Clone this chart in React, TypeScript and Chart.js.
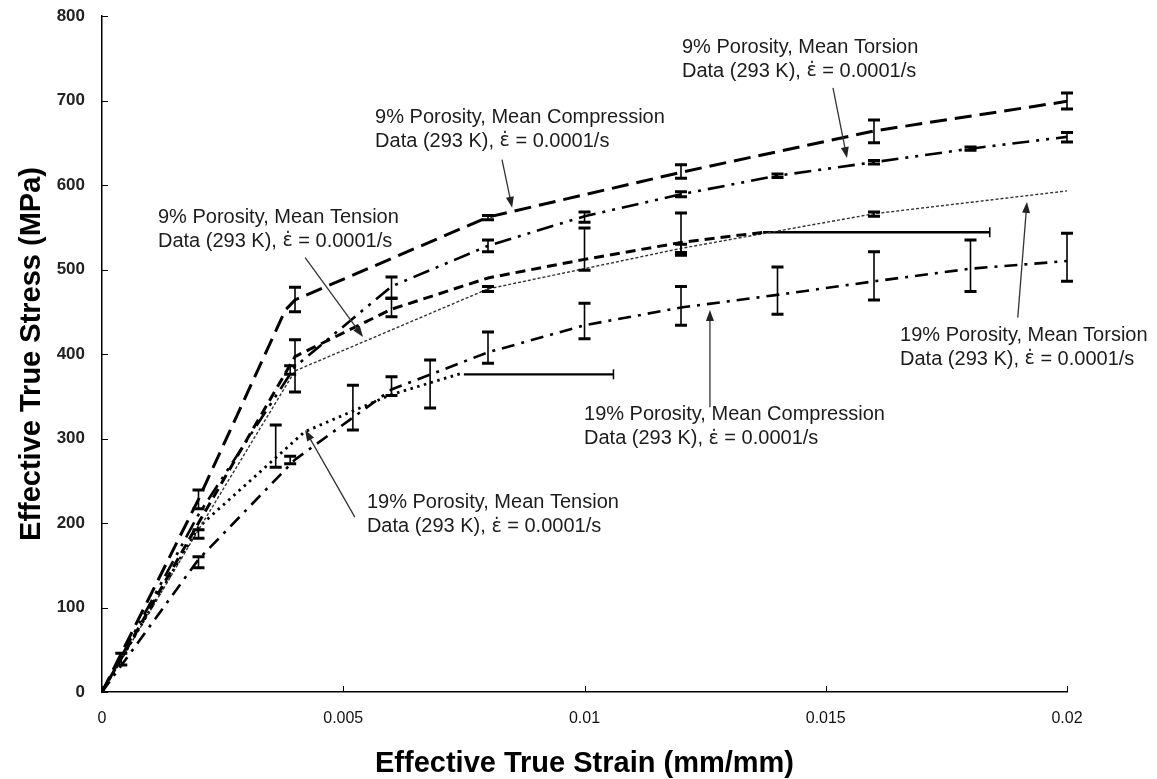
import React, { useEffect, useRef } from "react";
import { Chart, registerables } from "chart.js";

Chart.register(...registerables);

// ---------- axis ticks ----------
const xTicks = [0, 0.005, 0.01, 0.015, 0.02];
const xTickLabels = ["0", "0.005", "0.01", "0.015", "0.02"];
const yTicks = [0, 100, 200, 300, 400, 500, 600, 700, 800];

// ---------- mean curves ----------
const comp9Strain = [0, 0.002, 0.0038, 0.004, 0.008, 0.012, 0.016, 0.02];
const comp9Stress = [0, 228, 452, 464, 562, 615, 664, 699];

const tors9Strain = [0, 0.002, 0.004, 0.006, 0.008, 0.01, 0.012, 0.014, 0.016, 0.018, 0.02];
const tors9Stress = [0, 210, 385, 480, 528, 563, 589, 611, 627, 643, 657];

const tens9Strain = [0, 0.002, 0.004, 0.006, 0.008, 0.01, 0.012, 0.0137];
const tens9Stress = [0, 200, 397, 453, 490, 512, 532, 544];

const tors19Strain = [0, 0.002, 0.004, 0.008, 0.012, 0.016, 0.02];
const tors19Stress = [0, 192, 380, 477, 525, 566, 593];

const comp19Strain = [0, 0.002, 0.004, 0.006, 0.008, 0.01, 0.012, 0.014, 0.016, 0.018, 0.02];
const comp19Stress = [0, 157, 275, 358, 402, 434, 455, 470, 486, 501, 510];

const tens19Strain = [0, 0.002, 0.0042, 0.006, 0.0075];
const tens19Stress = [0, 195, 308, 352, 378];

// ---------- failure strain (horizontal) bars ----------
const tens9FailStrain = [0.0137, 0.0184];
const tens9FailStress = [544, 544];
const tens19FailStrain = [0.0075, 0.0106];
const tens19FailStress = [376, 376];

// ---------- vertical error bars (strain, high, low) ----------
const comp9ErrX = [0.002, 0.004, 0.008, 0.012, 0.016, 0.02];
const comp9ErrHi = [239, 479, 564, 624, 677, 709];
const comp9ErrLo = [217, 450, 559, 608, 650, 690];

const tors9ErrX = [0.006, 0.008, 0.01, 0.012, 0.014, 0.016, 0.018, 0.02];
const tors9ErrHi = [491, 535, 568, 592, 613, 629, 645, 662];
const tors9ErrLo = [466, 521, 556, 586, 609, 625, 641, 651];

const tens9ErrX = [0.002, 0.004, 0.006, 0.01, 0.012];
const tens9ErrHi = [192, 417, 466, 549, 567];
const tens9ErrLo = [182, 355, 444, 499, 517];

const tors19ErrX = [0.0004, 0.0039, 0.008, 0.012, 0.016];
const tors19ErrHi = [46, 386, 480, 530, 568];
const tors19ErrLo = [32, 376, 474, 520, 563];

const comp19ErrX = [0.002, 0.0039, 0.006, 0.008, 0.01, 0.012, 0.014, 0.016, 0.018, 0.02];
const comp19ErrHi = [160, 279, 373, 426, 460, 480, 503, 521, 535, 543];
const comp19ErrLo = [147, 270, 351, 389, 418, 434, 447, 464, 474, 486];

const tens19ErrX = [0.0036, 0.0052, 0.0068];
const tens19ErrHi = [316, 363, 393];
const tens19ErrLo = [266, 310, 336];

// ---------- annotations ----------
const noteTitles = [
  "9% Porosity, Mean Torsion",
  "9% Porosity, Mean Compression",
  "9% Porosity, Mean Tension",
  "19% Porosity, Mean Compression",
  "19% Porosity, Mean Tension",
  "19% Porosity, Mean Torsion",
];
const noteSubPrefix = "Data (293 K), ";
const noteSubSymbol = "\u03B5\u0307";
const noteSubSuffix = " = 0.0001/s";
const noteX = [0.01202, 0.00566, 0.00116, 0.00999, 0.00549, 0.01654];
const noteY = [763, 680, 562, 328, 224, 422];
const arrowFromX = [0.01515, 0.00829, 0.00421, 0.0126, 0.00524, 0.01898];
const arrowFromY = [715, 630, 514, 337, 207, 443];
const arrowToX = [0.01544, 0.0085, 0.00541, 0.0126, 0.00421, 0.01917];
const arrowToY = [632, 573, 420, 452, 310, 580];

const pts = (xs: number[], ys: number[]) => xs.map((x, i) => ({ x, y: ys[i] }));

const errorGroups = [
  { x: comp9ErrX, hi: comp9ErrHi, lo: comp9ErrLo },
  { x: tors9ErrX, hi: tors9ErrHi, lo: tors9ErrLo },
  { x: tens9ErrX, hi: tens9ErrHi, lo: tens9ErrLo },
  { x: tors19ErrX, hi: tors19ErrHi, lo: tors19ErrLo },
  { x: comp19ErrX, hi: comp19ErrHi, lo: comp19ErrLo },
  { x: tens19ErrX, hi: tens19ErrHi, lo: tens19ErrLo },
];

const failBars = [
  { x: tens9FailStrain, y: tens9FailStress },
  { x: tens19FailStrain, y: tens19FailStress },
];

const TEXT_FONT = '20px "Liberation Sans", Arial, sans-serif';
const SYMBOL_FONT = '19px "DejaVu Sans", sans-serif';

const overlayPlugin = {
  id: "overlay",
  afterDatasetsDraw(chart: any) {
    const ctx: CanvasRenderingContext2D = chart.ctx;
    const xs = chart.scales.x;
    const ys = chart.scales.y;
    const X = (v: number) => xs.getPixelForValue(v);
    const Y = (v: number) => ys.getPixelForValue(v);
    ctx.save();

    // inward tick marks
    ctx.strokeStyle = "#000";
    ctx.lineWidth = 1;
    xTicks.forEach((v) => {
      const px = Math.round(X(v)) + 0.5;
      ctx.beginPath();
      ctx.moveTo(px, Y(0));
      ctx.lineTo(px, Y(0) - 6);
      ctx.stroke();
    });
    yTicks.forEach((v) => {
      const py = Math.round(Y(v)) + 0.5;
      ctx.beginPath();
      ctx.moveTo(X(0), py);
      ctx.lineTo(X(0) + 6, py);
      ctx.stroke();
    });

    // vertical error bars
    errorGroups.forEach((g) => {
      g.x.forEach((xv, i) => {
        const px = X(xv);
        const pHi = Y(g.hi[i]);
        const pLo = Y(g.lo[i]);
        ctx.strokeStyle = "#000";
        ctx.lineWidth = 1.6;
        ctx.beginPath();
        ctx.moveTo(px, pHi);
        ctx.lineTo(px, pLo);
        ctx.stroke();
        ctx.lineWidth = 3;
        ctx.beginPath();
        ctx.moveTo(px - 6, pHi);
        ctx.lineTo(px + 6, pHi);
        ctx.moveTo(px - 6, pLo);
        ctx.lineTo(px + 6, pLo);
        ctx.stroke();
      });
    });

    // end caps of horizontal failure bars
    failBars.forEach((b) => {
      const px = X(b.x[1]);
      const py = Y(b.y[1]);
      ctx.strokeStyle = "#000";
      ctx.lineWidth = 1.5;
      ctx.beginPath();
      ctx.moveTo(px, py - 5);
      ctx.lineTo(px, py + 5);
      ctx.stroke();
    });

    // annotations
    ctx.fillStyle = "#1c1c1c";
    ctx.textBaseline = "middle";
    ctx.textAlign = "left";
    noteTitles.forEach((t, i) => {
      const px = X(noteX[i]);
      const py = Y(noteY[i]);
      ctx.font = TEXT_FONT;
      ctx.fillText(t, px, py);
      let cx = px;
      const py2 = py + 24;
      ctx.fillText(noteSubPrefix, cx, py2);
      cx += ctx.measureText(noteSubPrefix).width;
      ctx.font = SYMBOL_FONT;
      ctx.fillText(noteSubSymbol, cx, py2);
      cx += ctx.measureText(noteSubSymbol).width;
      ctx.font = TEXT_FONT;
      ctx.fillText(noteSubSuffix, cx, py2);
    });

    // arrows
    arrowFromX.forEach((fx, i) => {
      const x1 = X(fx), y1 = Y(arrowFromY[i]);
      const x2 = X(arrowToX[i]), y2 = Y(arrowToY[i]);
      const ang = Math.atan2(y2 - y1, x2 - x1);
      const hl = 11, hw = 4;
      ctx.strokeStyle = "#333";
      ctx.fillStyle = "#222";
      ctx.lineWidth = 1.3;
      ctx.beginPath();
      ctx.moveTo(x1, y1);
      ctx.lineTo(x2 - Math.cos(ang) * hl * 0.8, y2 - Math.sin(ang) * hl * 0.8);
      ctx.stroke();
      ctx.beginPath();
      ctx.moveTo(x2, y2);
      ctx.lineTo(x2 - Math.cos(ang) * hl + Math.sin(ang) * hw, y2 - Math.sin(ang) * hl - Math.cos(ang) * hw);
      ctx.lineTo(x2 - Math.cos(ang) * hl - Math.sin(ang) * hw, y2 - Math.sin(ang) * hl + Math.cos(ang) * hw);
      ctx.closePath();
      ctx.fill();
    });

    ctx.restore();
  },
};

export default function App() {
  const ref = useRef<HTMLCanvasElement | null>(null);

  useEffect(() => {
    if (!ref.current) return;
    const base = { pointRadius: 0, tension: 0, fill: false, borderColor: "#000", borderCapStyle: "butt" as const };
    const chart = new Chart(ref.current, {
      type: "line",
      data: {
        datasets: [
          { ...base, label: "9% Compression", data: pts(comp9Strain, comp9Stress), borderWidth: 3, borderDash: [17, 8] },
          { ...base, label: "9% Torsion", data: pts(tors9Strain, tors9Stress), borderWidth: 2.6, borderDash: [17, 7, 3, 7, 3, 7] },
          { ...base, label: "9% Tension", data: pts(tens9Strain, tens9Stress), borderWidth: 3, borderDash: [10, 6] },
          { ...base, label: "19% Torsion", data: pts(tors19Strain, tors19Stress), borderWidth: 1.4, borderColor: "#333", borderDash: [3, 2] },
          { ...base, label: "19% Compression", data: pts(comp19Strain, comp19Stress), borderWidth: 2.6, borderDash: [13, 7, 3, 7] },
          { ...base, label: "19% Tension", data: pts(tens19Strain, tens19Stress), borderWidth: 2.8, borderDash: [2.5, 4.5] },
          { ...base, label: "9% Tension failure", data: pts(tens9FailStrain, tens9FailStress), borderWidth: 2.6 },
          { ...base, label: "19% Tension failure", data: pts(tens19FailStrain, tens19FailStress), borderWidth: 2.2 },
        ],
      },
      options: {
        animation: false,
        responsive: false,
        maintainAspectRatio: false,
        layout: { padding: { top: 16, right: 90, left: 0, bottom: 0 } },
        plugins: { legend: { display: false }, tooltip: { enabled: false } },
        scales: {
          x: {
            type: "linear",
            min: 0,
            max: 0.02,
            afterBuildTicks: (s: any) => {
              s.ticks = xTicks.map((v) => ({ value: v }));
            },
            afterFit: (s: any) => {
              s.height = 87;
            },
            grid: { display: false, drawTicks: false },
            border: { display: true, color: "#000", width: 1.5 },
            ticks: {
              padding: 17,
              color: "#111",
              maxRotation: 0,
              font: { family: '"Liberation Sans", Arial, sans-serif', size: 16 },
              callback: (_v: any, i: number) => xTickLabels[i],
            },
            title: {
              display: true,
              text: "Effective True Strain (mm/mm)",
              color: "#000",
              font: { family: '"Liberation Sans", Arial, sans-serif', size: 29, weight: "bold", lineHeight: 1 },
              padding: { top: 0, bottom: 1 },
            },
          },
          y: {
            type: "linear",
            min: 0,
            max: 800,
            afterBuildTicks: (s: any) => {
              s.ticks = yTicks.map((v) => ({ value: v }));
            },
            afterFit: (s: any) => {
              s.width = 102;
              s.paddingTop = 0;
              s.paddingBottom = 0;
            },
            grid: { display: false, drawTicks: false },
            border: { display: true, color: "#000", width: 1.5 },
            ticks: {
              padding: 17,
              color: "#222",
              font: { family: '"Liberation Sans", Arial, sans-serif', size: 17, weight: "bold" },
              callback: (v: any) => String(v),
            },
            title: {
              display: true,
              text: "Effective True Stress (MPa)",
              color: "#000",
              font: { family: '"Liberation Sans", Arial, sans-serif', size: 29, weight: "bold", lineHeight: 1 },
              padding: { top: 17, bottom: 0 },
            },
          },
        },
      },
      plugins: [overlayPlugin],
    });
    return () => chart.destroy();
  }, []);

  return (
    <div style={{ position: "fixed", left: 0, top: 0, width: 1157, height: 779, background: "#fff" }}>
      <canvas ref={ref} width={1157} height={779} style={{ display: "block", width: 1157, height: 779 }} />
    </div>
  );
}
